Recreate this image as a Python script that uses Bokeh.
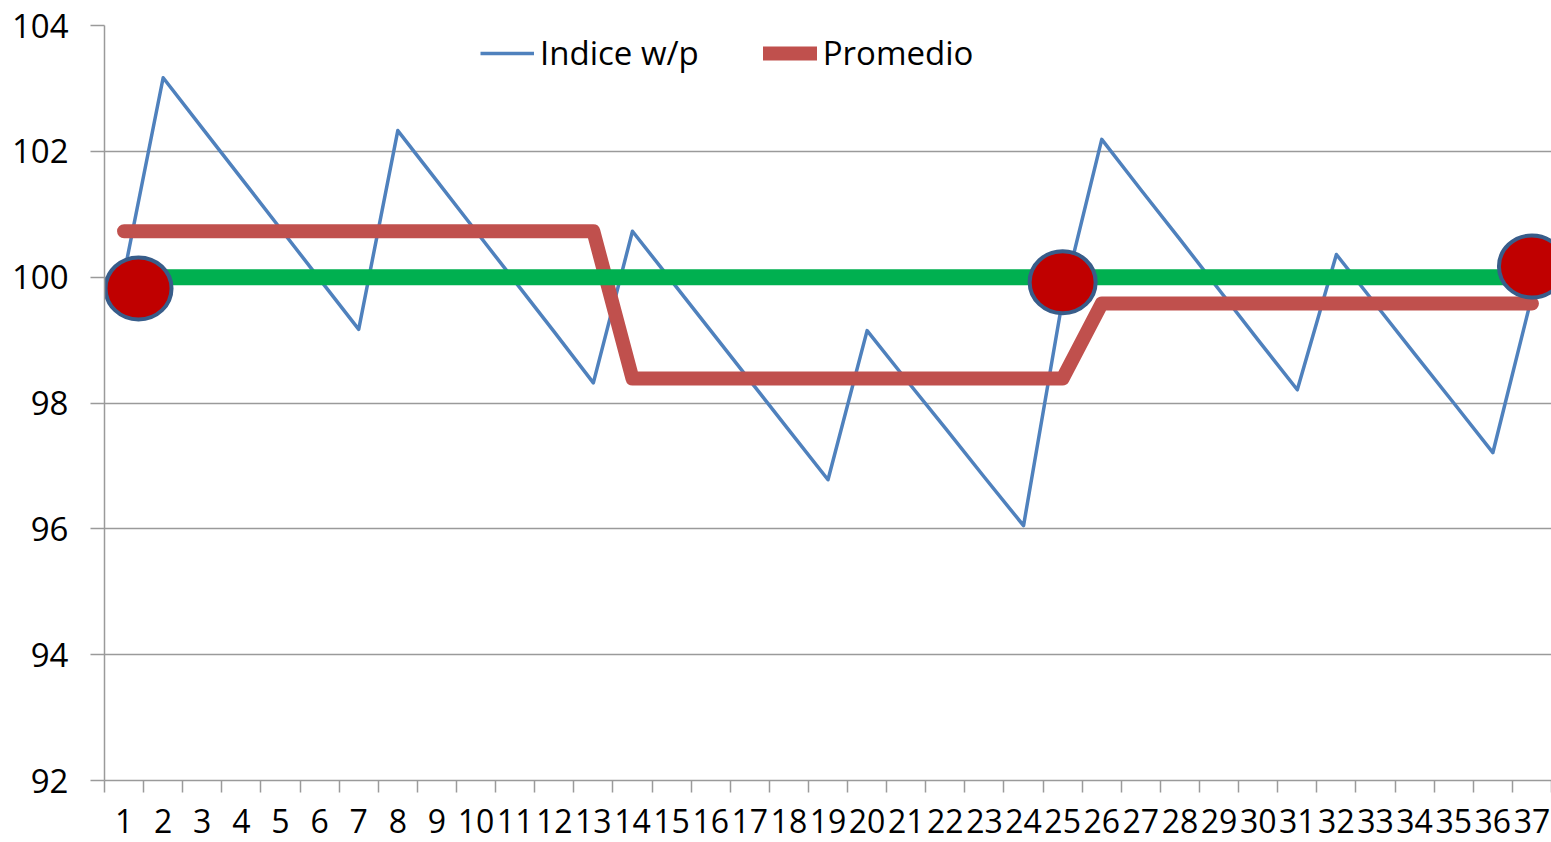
from bokeh.plotting import figure
from bokeh.models import Range1d, FixedTicker, Legend, LegendItem
from bokeh.embed import file_html
from bokeh.resources import INLINE

# ---- data ----
periods = list(range(1, 38))
tick_labels = [str(i) for i in periods]
indice_wp = [100.05, 103.17, 102.37, 101.57, 100.77, 99.97, 99.17,
             102.33, 101.53, 100.73, 99.93, 99.13, 98.32,
             100.73, 99.94, 99.15, 98.36, 97.57, 96.78,
             99.15, 98.37, 97.60, 96.82, 96.05, 99.65,
             102.19, 101.39, 100.60, 99.80, 99.00, 98.21,
             100.36, 99.57, 98.78, 98.00, 97.21, 99.70]
promedio = [100.73] * 13 + [98.39] * 12 + [99.58] * 12
base = [100.0] * 37
marker_x = [1.37, 25.0, 37.0]
marker_y = [99.82, 99.92, 100.17]

FONT = "Open Sans"

p = figure(width=1551, height=842,
           x_range=Range1d(0.5, 37.5), y_range=Range1d(92, 104),
           output_backend="svg", toolbar_location=None,
           min_border_left=104, min_border_right=0,
           min_border_top=25, min_border_bottom=62)
p.outline_line_color = None
p.background_fill_color = "white"

# axes
xa = p.xaxis[0]
xa.ticker = FixedTicker(ticks=periods, minor_ticks=[i - 0.5 for i in periods] + [37.5])
xa.major_label_overrides = {i: lab for i, lab in zip(periods, tick_labels)}
xa.major_tick_out = 0
xa.major_tick_in = 0
xa.minor_tick_out = 12
xa.minor_tick_in = 0
xa.minor_tick_line_color = "#9a9a9a"
xa.minor_tick_line_width = 1.5
xa.axis_line_color = "#9a9a9a"
xa.axis_line_width = 1.5
xa.major_label_standoff = 16
xa.major_label_text_font = FONT
xa.major_label_text_font_size = "32px"
xa.major_label_text_color = "black"

ya = p.yaxis[0]
ya.ticker = FixedTicker(ticks=[92, 94, 96, 98, 100, 102, 104], minor_ticks=[])
ya.major_tick_out = 14
ya.major_tick_in = 0
ya.major_tick_line_color = "#9a9a9a"
ya.major_tick_line_width = 1.5
ya.minor_tick_line_color = None
ya.axis_line_color = "#9a9a9a"
ya.axis_line_width = 1.5
ya.major_label_standoff = 22
ya.major_label_text_font = FONT
ya.major_label_text_font_size = "33px"
ya.major_label_text_color = "black"

p.xgrid.grid_line_color = None
p.ygrid.grid_line_color = "#9a9a9a"
p.ygrid.grid_line_width = 1.3

# series
r_blue = p.line(periods, indice_wp, line_color="#4F81BD", line_width=3.5,
                line_join="round")
r_red = p.line(periods, promedio, line_color="#C0504D", line_width=14,
               line_join="round", line_cap="round")
p.line(periods, base, line_color="#00B050", line_width=16)
p.ellipse(x=marker_x, y=marker_y, width=66, height=62,
          width_units="screen", height_units="screen",
          fill_color="#C00000", line_color="#385D8A", line_width=4)

legend = Legend(items=[LegendItem(label="Indice w/p", renderers=[r_blue]),
                       LegendItem(label="Promedio", renderers=[r_red])],
                orientation="horizontal", location=(376, 705),
                padding=0, margin=0, spacing=64, glyph_width=54,
                label_standoff=6, border_line_color=None,
                background_fill_alpha=0,
                label_text_font=FONT, label_text_font_size="33px",
                label_text_color="black")
p.add_layout(legend)

open("out.html", "w").write(file_html(p, INLINE))
